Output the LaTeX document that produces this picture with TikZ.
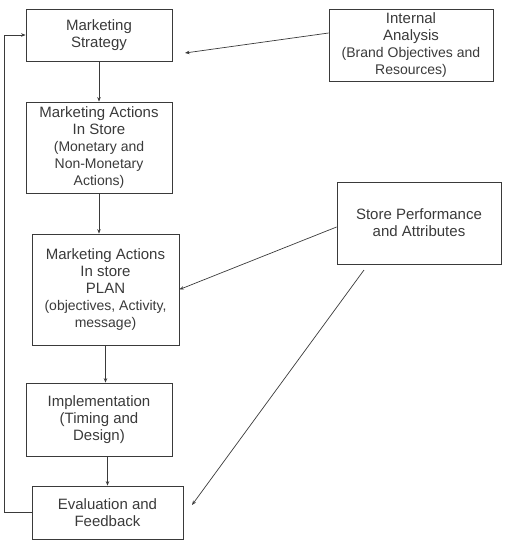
\documentclass[tikz,border=0pt]{standalone}
\usepackage{fontspec}
\setmainfont{Liberation Sans}
\usetikzlibrary{arrows.meta}
\definecolor{inkgray}{HTML}{3A3A3A}
\tikzset{
  stagebox/.style={draw=inkgray, line width=0.8pt, align=center, text=inkgray,
    font=\fontsize{15}{17}\selectfont, inner sep=0pt},
  flowline/.style={draw=inkgray, line width=0.7pt, -{Stealth[length=4.5pt,width=3.5pt]}}
}
\newcommand{\subtext}{\fontsize{14}{16.5}\selectfont}
\begin{document}
\begin{tikzpicture}[x=1pt, y=-1pt]
  \useasboundingbox (0,0) rectangle (508,552);
  % left column
  \node[stagebox, minimum width=146pt, minimum height=52pt] (strategy) at (99,35)
    {Marketing\\Strategy};
  \node[stagebox, minimum width=146pt, minimum height=91pt] (instore) at (99,147.5)
    {Marketing Actions\\In Store\\{\subtext(Monetary and}\\{\subtext Non-Monetary}\\{\subtext Actions)}};
  \node[stagebox, minimum width=147pt, minimum height=111pt] (plan) at (105.5,289.5)
    {Marketing Actions\\In store\\PLAN\\{\subtext(objectives, Activity,}\\{\subtext message)}};
  \node[stagebox, minimum width=146pt, minimum height=73pt] (impl) at (99,419.5)
    {Implementation\\(Timing and\\Design)};
  \node[stagebox, minimum width=151pt, minimum height=53pt] (eval) at (107.5,512.5)
    {Evaluation and\\Feedback};
  % right column
  \node[stagebox, minimum width=164pt, minimum height=72pt] (internal) at (411,45)
    {Internal\\Analysis\\{\subtext(Brand Objectives and}\\{\subtext Resources)}};
  \node[stagebox, minimum width=164pt, minimum height=82pt] (store) at (419,223)
    {Store Performance\\and Attributes};
  \coordinate (ia-end) at (185,53);
  \coordinate (sp-start) at (364,270);
  \coordinate (sp-end) at (192,505);
  \coordinate (loop) at (4,512.5);

  \draw[flowline] (strategy) -- (instore);
  \draw[flowline] (instore.south) -- (instore.south |- plan.north);
  \draw[flowline] (plan.south) -- (plan.south |- impl.north);
  \draw[flowline] (eval.north |- impl.south) -- (eval.north);
  \draw[flowline] ([yshift=12pt]internal.west) -- (ia-end);
  \draw[flowline] ([yshift=-4pt]store.west) -- (plan.east);
  \draw[flowline] (sp-start) -- (sp-end);
  \draw[flowline] (eval.west) -- (loop) |- (strategy.west);
\end{tikzpicture}
\end{document}
